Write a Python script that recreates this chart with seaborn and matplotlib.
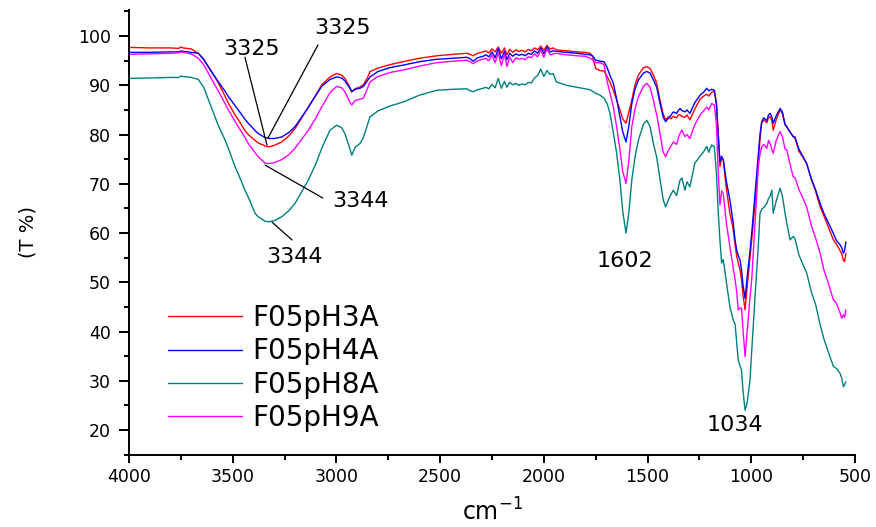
import numpy as np
import pandas as pd
import matplotlib
matplotlib.use("Agg")
import matplotlib.pyplot as plt
from matplotlib.ticker import MultipleLocator
import seaborn as sns

# ---------------- data ----------------
wavenumber = [
    4000, 3900, 3800, 3760, 3750, 3740, 3700, 3666, 3640, 3618, 3585, 3569, 3537, 3521,
    3489, 3473, 3441, 3425, 3392, 3377, 3344, 3325, 3300, 3264, 3230, 3200, 3170, 3135,
    3100, 3071, 3031, 2999, 2975, 2959, 2938, 2926, 2910, 2886, 2870, 2850, 2838, 2800,
    2742, 2679, 2600, 2516, 2438, 2372, 2355, 2341, 2320, 2293,
    2280, 2265, 2250, 2235, 2220, 2205, 2190, 2178, 2165, 2150, 2135, 2120, 2105, 2090,
    2075, 2060, 2045, 2030, 2015, 2000, 1985, 1970, 1955,
    1940, 1890, 1840, 1800, 1777, 1765, 1750, 1729, 1710, 1695, 1681, 1665, 1649, 1633,
    1620, 1604, 1590, 1576, 1560, 1544, 1520, 1504, 1488, 1472, 1456, 1440, 1425, 1413,
    1400, 1388, 1376, 1360, 1350, 1343, 1335, 1320, 1310, 1296, 1272, 1247, 1230, 1215,
    1205, 1191, 1178, 1168, 1159, 1151, 1143, 1135, 1120, 1103, 1087, 1078, 1070, 1063,
    1054, 1047, 1040, 1030, 1020, 1006, 998, 982, 966, 958, 950, 940, 925, 917, 909, 901,
    894, 880, 861, 850, 837, 829, 813, 798, 789, 770, 750, 733, 710, 690, 668, 650, 630,
    604, 590, 572, 564, 556, 550, 544,
]

t_pH3 = [
    97.7, 97.6, 97.6, 97.5, 97.8, 97.6, 97.4, 96.5, 95.3, 93.8, 91.6, 90.5, 87.8, 86.4,
    84.0, 83.0, 80.8, 80.0, 78.8, 78.3, 77.7, 77.5, 77.8, 78.5, 79.7, 81.2, 83.2, 85.6,
    88.0, 90.1, 91.7, 92.4, 92.1, 91.4, 89.8, 88.7, 89.3, 89.7, 90.1, 91.6, 92.8, 93.5,
    94.2, 94.8, 95.5, 96.0, 96.3, 96.5, 96.3, 96.0, 96.5, 96.8,
    97.0, 96.6, 97.4, 96.8, 97.8, 96.5, 97.6, 96.2, 97.3, 96.7, 97.2, 96.9, 97.1, 96.8,
    97.3, 97.0, 97.6, 97.2, 98.0, 97.1, 98.1, 97.4, 97.6,
    97.2, 97.0, 96.8, 96.7, 96.5, 95.8, 93.4, 93.0, 92.9, 91.8, 90.6, 89.0, 87.0, 85.0,
    83.2, 82.3, 84.6, 87.0, 90.2, 92.1, 93.6, 93.8, 93.4, 92.1, 90.4, 87.0, 84.2, 83.0,
    83.6, 83.2, 83.7, 83.4, 84.1, 84.0, 83.7, 83.5, 84.0, 83.0, 85.2, 87.2, 87.8, 88.2,
    87.8, 88.6, 88.8, 86.5, 80.0, 73.5, 75.4, 74.8, 69.0, 64.0, 60.8, 57.6, 55.2, 54.0,
    52.5, 50.5, 47.5, 44.4, 49.0, 55.0, 58.6, 66.0, 74.8, 79.0, 82.3, 83.0, 82.4, 83.5, 83.6, 82.8,
    80.9, 83.0, 85.0, 84.2, 82.0, 81.6, 80.5, 79.6, 79.2, 76.6, 75.3, 74.1, 70.8, 68.5, 65.3, 63.5, 61.4,
    58.6, 57.8, 56.4, 55.8, 54.5, 54.2, 55.9,
]

t_pH4 = [
    96.7, 96.7, 96.8, 96.8, 97.0, 96.9, 96.7, 96.5, 95.3, 93.8, 91.7, 90.7, 88.8, 87.7,
    85.9, 85.0, 83.1, 82.3, 80.8, 80.2, 79.4, 79.2, 79.2, 79.5, 80.4, 81.6, 83.4, 85.6,
    87.9, 89.8, 91.2, 91.7, 91.5, 90.9, 89.6, 88.7, 89.2, 89.4, 89.8, 91.0, 91.7, 92.8,
    93.6, 94.1, 94.8, 95.3, 95.5, 95.7, 95.4, 94.9, 95.6, 95.9,
    96.2, 95.8, 96.8, 95.6, 97.4, 95.4, 96.9, 95.2, 96.5, 95.9, 96.4, 96.1, 96.3, 96.0,
    96.5, 96.3, 97.0, 96.5, 97.6, 96.4, 97.8, 96.8, 97.0,
    96.9, 96.7, 96.5, 96.3, 96.2, 96.0, 95.1, 94.9, 94.8, 93.6, 92.0, 90.4, 87.2, 83.6,
    80.6, 78.5, 81.8, 86.3, 89.3, 91.1, 92.5, 92.8, 92.5, 91.1, 89.6, 86.3, 83.6, 82.6,
    83.3, 83.9, 84.6, 84.3, 85.0, 85.3, 84.9, 84.6, 85.0, 84.3, 86.5, 88.0, 88.6, 89.4,
    88.9, 89.2, 89.0, 86.0, 79.6, 74.5, 75.6, 74.9, 70.5, 66.7, 62.0, 58.5, 56.5, 55.5,
    54.5, 52.5, 49.5, 46.7, 51.0, 56.5, 59.9, 68.0, 76.2, 80.0, 82.6, 83.4, 82.8, 84.0, 84.3, 83.6,
    82.3, 83.8, 85.3, 84.6, 82.0, 81.6, 80.5, 79.6, 79.5, 77.0, 75.5, 74.1, 71.0, 68.8, 66.0, 64.0, 62.2,
    59.9, 58.5, 57.6, 57.0, 55.9, 56.5, 58.2,
]

t_pH8 = [
    91.4, 91.5, 91.6, 91.6, 91.9, 91.8, 91.6, 91.2, 89.6, 87.2, 83.6, 81.8, 78.9, 77.2,
    73.5, 72.0, 68.7, 67.3, 64.0, 63.3, 62.4, 62.3, 62.5, 63.3, 64.5, 66.0, 68.2, 70.8,
    74.0, 77.2, 80.9, 81.9, 81.4, 80.2, 77.5, 75.8, 77.4, 78.2, 79.4, 82.0, 83.6, 84.8,
    85.8, 86.6, 88.0, 89.0, 89.2, 89.3, 88.9, 88.7, 89.1, 89.4,
    89.6, 89.3, 90.2, 89.5, 91.4, 89.4, 90.8, 89.6, 90.6, 90.1, 90.4, 90.0, 90.3, 90.1,
    90.6, 90.5, 91.5, 92.0, 93.3, 91.8, 93.0, 92.2, 92.4,
    90.7, 90.0, 89.6, 89.3, 89.1, 88.8, 88.4, 88.0, 87.4, 86.3, 84.3, 80.4, 76.2, 70.6,
    64.5, 60.0, 64.2, 70.8, 75.6, 78.9, 82.1, 82.9, 81.6, 78.2, 75.4, 71.0, 66.8, 65.3,
    66.7, 67.8, 68.7, 67.6, 69.6, 70.8, 71.2, 68.7, 70.4, 69.4, 74.2, 75.6, 76.5, 77.6,
    76.4, 77.9, 77.5, 72.0, 64.0, 58.5, 53.9, 54.6, 50.0, 45.0, 42.3, 41.5, 37.5, 34.2,
    33.0, 32.1, 28.0, 24.0, 25.5, 30.2, 36.0, 47.0, 57.5, 64.0, 64.8, 65.2, 66.0, 67.0, 67.5, 68.7,
    64.0, 66.5, 69.1, 67.5, 64.0, 62.0, 58.6, 59.3, 58.8, 55.5, 53.5, 51.9, 48.0, 45.5, 41.4, 38.5, 36.0,
    32.9, 32.5, 31.5, 30.5, 28.8, 29.2, 29.8,
]

t_pH9 = [
    96.3, 96.4, 96.5, 96.6, 96.8, 96.7, 96.4, 95.5, 94.2, 92.5, 90.0, 88.8, 86.3, 85.0,
    82.7, 81.6, 79.4, 78.2, 76.3, 75.5, 74.2, 74.1, 74.3, 74.9, 75.9, 77.2, 78.9, 80.9,
    83.3, 85.6, 88.5, 89.8, 89.5, 88.7, 86.8, 86.0, 86.9, 87.2, 87.4, 89.4, 90.7, 91.8,
    92.6, 93.1, 93.9, 94.6, 94.9, 95.1, 94.8, 94.4, 95.0, 95.3,
    95.5, 95.0, 96.2, 94.6, 96.6, 94.0, 96.3, 93.8, 95.8, 94.6, 95.6, 95.3, 95.5, 95.2,
    95.8, 95.6, 96.4, 95.8, 97.2, 95.7, 97.4, 96.2, 96.4,
    96.5, 96.2, 96.0, 95.9, 95.5, 95.2, 94.6, 94.6, 94.2, 90.8, 88.4, 85.6, 81.5, 76.9,
    72.5, 70.1, 74.8, 81.6, 85.3, 87.7, 89.8, 90.4, 89.6, 87.0, 84.0, 80.2, 76.5, 75.5,
    76.8, 77.6, 78.5, 78.0, 79.6, 80.3, 80.9, 79.6, 80.0, 79.2, 82.0, 84.0, 84.8, 85.6,
    85.0, 86.3, 86.0, 82.0, 72.0, 65.7, 68.6, 68.0, 62.0, 57.2, 53.0, 50.5, 48.0, 44.4,
    44.8, 44.7, 40.5, 34.9, 40.0, 47.0, 50.5, 62.0, 73.5, 76.0, 77.5, 78.0, 77.2, 78.8, 78.2, 77.0,
    76.2, 78.8, 80.6, 79.6, 77.0, 76.9, 74.0, 71.4, 71.2, 68.8, 67.0, 65.3, 61.5, 59.0, 55.9, 52.5, 50.0,
    46.4, 45.8, 43.8, 42.7, 43.4, 42.9, 44.4,
]

series_names = ["F05pH3A", "F05pH4A", "F05pH8A", "F05pH9A"]
series_colors = ["#ff0000", "#0000ff", "#008080", "#ff00ff"]

x_ticks = [4000, 3500, 3000, 2500, 2000, 1500, 1000, 500]
y_ticks = [20, 30, 40, 50, 60, 70, 80, 90, 100]

# peak annotations: label, text position, leader line (from, to)
peak_labels = ["3325", "3325", "3344", "3344", "1602", "1034"]
peak_text_pos = [(3408, 97.3), (2971, 101.7), (2886, 66.5), (3201, 55.1), (1609, 54.4), (1081, 21.0)]
leader_lines = [((3441, 95.7), (3335, 77.9)),
                ((3089, 98.2), (3330, 79.3)),
                ((3344, 73.8), (3065, 67.1)),
                ((3310, 62.2), (3214, 58.6))]

# ---------------- build long table ----------------
frames = []
for name, vals in zip(series_names, [t_pH3, t_pH4, t_pH8, t_pH9]):
    frames.append(pd.DataFrame({"wn": wavenumber, "T": vals, "sample": name}))
df = pd.concat(frames, ignore_index=True)

sns.set_style("ticks")
plt.rcParams["font.family"] = ["DejaVu Sans"]
plt.rcParams["text.color"] = "black"
plt.rcParams["axes.labelcolor"] = "black"
plt.rcParams["xtick.color"] = "black"
plt.rcParams["ytick.color"] = "black"

fig = plt.figure(figsize=(8.76, 5.27), dpi=100)
ax = fig.add_axes([129 / 876, 1 - 455 / 527, 726 / 876, 445 / 527])

sns.lineplot(data=df, x="wn", y="T", hue="sample", hue_order=series_names,
             palette=series_colors, estimator=None, sort=False, lw=1.0,
             legend=False, ax=ax)

ax.set_xlim(4000, 500)
ax.set_ylim(14.92, 105.3)
ax.set_xticks(x_ticks)
ax.set_yticks(y_ticks)
ax.xaxis.set_minor_locator(MultipleLocator(250))
ax.yaxis.set_minor_locator(MultipleLocator(5))

sns.despine(ax=ax)
for s in ["left", "bottom"]:
    ax.spines[s].set_linewidth(1.4)
    ax.spines[s].set_color("black")

ax.tick_params(axis="x", which="major", direction="out", length=6, width=1.4,
               labelsize=12.5, pad=3, colors="black")
ax.tick_params(axis="x", which="minor", direction="out", length=3.5, width=1.4, colors="black")
ax.tick_params(axis="y", which="major", direction="out", length=7, width=1.4,
               labelsize=12.5, pad=6, colors="black")
ax.tick_params(axis="y", which="minor", direction="out", length=3.5, width=1.4, colors="black")

ax.set_xlabel(r"$\mathregular{cm^{-1}}$", fontsize=17, labelpad=9, color="black")
ax.set_ylabel("(T %)", fontsize=14, labelpad=29, color="black")

for (p0, p1) in leader_lines:
    ax.annotate("", xy=p1, xytext=p0,
                arrowprops=dict(arrowstyle="-", color="black", lw=0.9,
                                shrinkA=0, shrinkB=0))
for lab, pos in zip(peak_labels, peak_text_pos):
    ax.text(pos[0], pos[1], lab, fontsize=16, ha="center", va="center", color="black")

handles = ax.get_lines()[:4]
leg = ax.legend(handles, series_names, loc="upper left",
                bbox_to_anchor=(168 / 876, 1 - 304 / 527),
                bbox_transform=fig.transFigure, frameon=False,
                fontsize=20, handlelength=2.66, handletextpad=0.36,
                labelspacing=0.19, borderpad=0, borderaxespad=0,
                labelcolor="black")

fig.savefig("out.png", dpi=100)
